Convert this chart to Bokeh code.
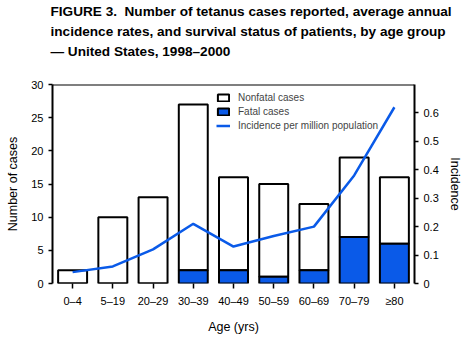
from bokeh.plotting import figure
from bokeh.models import (FactorRange, Range1d, LinearAxis, Span, Legend, LegendItem,
                          Title, SingleIntervalTicker, ColumnDataSource)
from bokeh.embed import file_html
from bokeh.resources import INLINE

ages = ["0–4", "5–19", "20–29", "30–39", "40–49", "50–59", "60–69", "70–79", "≥80"]
total_cases = [2, 10, 13, 27, 16, 15, 12, 19, 16]
fatal_cases = [0, 0, 0, 2, 2, 1, 2, 7, 6]
incidence = [0.04, 0.06, 0.12, 0.21, 0.13, 0.167, 0.20, 0.38, 0.62]
nonfatal_cases = [t - f for t, f in zip(total_cases, fatal_cases)]

BLUE = "#0a5ae8"
FONT = "Liberation Sans"

src = ColumnDataSource(dict(age=ages, total=total_cases, fatal=fatal_cases,
                            inc=incidence))

p = figure(width=472, height=340, x_range=FactorRange(*ages, range_padding=0),
           y_range=Range1d(0, 30), output_backend="svg", toolbar_location=None,
           min_border_left=52, min_border_right=58, min_border_top=0, min_border_bottom=57)
p.extra_y_ranges = {"inc": Range1d(0, 0.7)}
p.x_range.factor_padding = 0
p.grid.visible = False
p.outline_line_color = None
p.background_fill_color = "white"

r_non = p.vbar(x="age", bottom="fatal", top="total", width=0.72, source=src,
               fill_color="white", line_color="black", line_width=2)
r_fat = p.vbar(x="age", bottom=0, top="fatal", width=0.72, source=src,
               fill_color=BLUE, line_color="black", line_width=2)
r_inc = p.line(x="age", y="inc", source=src, y_range_name="inc",
               line_color=BLUE, line_width=2.5)

p.add_layout(Span(location=30, dimension="width", line_color="black", line_width=2))

# left axis
ya = p.yaxis[0]
ya.ticker = SingleIntervalTicker(interval=5)
ya.axis_label = "Number of cases"
ya.minor_tick_line_color = None
ya.axis_line_width = 2
ya.major_tick_line_width = 1.5
ya.major_tick_out = 4
ya.major_tick_in = 0

yr = LinearAxis(y_range_name="inc", axis_label="Incidence",
                ticker=SingleIntervalTicker(interval=0.1))
yr.minor_tick_line_color = None
yr.axis_line_width = 2
yr.major_tick_line_width = 1.5
yr.major_tick_out = 4
yr.major_tick_in = 0
p.add_layout(yr, "right")

xa = p.xaxis[0]
xa.axis_label = "Age (yrs)"
xa.axis_line_color = None
xa.major_tick_out = 5
xa.major_tick_in = 0
xa.major_tick_line_width = 1.5
xa.major_label_standoff = 6

for ax in (ya, yr, xa):
    ax.major_label_text_font = FONT
    ax.major_label_text_font_size = "11px"
    ax.major_label_text_color = "black"
    ax.axis_label_text_font = FONT
    ax.axis_label_text_font_size = "12.5px"
    ax.axis_label_text_font_style = "normal"
    ax.axis_label_text_color = "black"
ya.axis_label_standoff = 8
yr.axis_label_standoff = 6
xa.axis_label_standoff = 10

legend = Legend(items=[LegendItem(label="Nonfatal cases", renderers=[r_non]),
                       LegendItem(label="Fatal cases", renderers=[r_fat]),
                       LegendItem(label="Incidence per million population", renderers=[r_inc])],
                location=(164, 152), background_fill_alpha=0, border_line_color=None,
                label_text_font=FONT, label_text_font_size="10px",
                glyph_width=14, glyph_height=9, spacing=3, padding=4,
                label_standoff=8, label_height=10)
p.add_layout(legend, "center")

titles = ["FIGURE 3.\u00a0 Number of tetanus cases reported, average annual",
          "incidence rates, and survival status of patients, by age group",
          "— United States, 1998–2000"]
p.add_layout(Title(text=" ", text_font_size="11px"), "above")
for t in titles[::-1]:
    p.add_layout(Title(text=t, text_font=FONT, text_font_size="13.6px",
                       text_font_style="bold", text_color="black",
                       offset=-2, standoff=3), "above")

open("out.html", "w").write(file_html(p, INLINE))
